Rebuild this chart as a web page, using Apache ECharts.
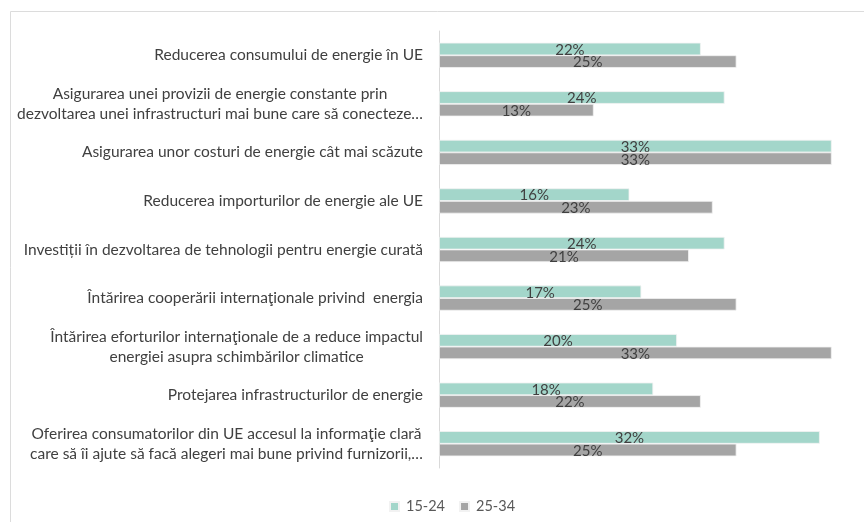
<!DOCTYPE html>
<html>
<head>
<meta charset="utf-8">
<script src="https://cdn.jsdelivr.net/npm/echarts@6/dist/echarts.min.js"></script>
<style>
html,body{margin:0;padding:0;background:#fff;}
#chart{width:864px;height:522px;}
</style>
</head>
<body>
<div id="chart"></div>
<script>
const categories = [
  "Reducerea consumului de energie în UE",
  "Asigurarea unei provizii de energie constante prin\ndezvoltarea unei infrastructuri mai bune care să conecteze…",
  "Asigurarea unor costuri de energie cât mai scăzute",
  "Reducerea importurilor de energie ale UE",
  "Investiții în dezvoltarea de tehnologii pentru energie curată",
  "Întărirea cooperării internaţionale privind  energia",
  "Întărirea eforturilor internaţionale de a reduce impactul\nenergiei asupra schimbărilor climatice",
  "Protejarea infrastructurilor de energie",
  "Oferirea consumatorilor din UE accesul la informaţie clară\ncare să îi ajute să facă alegeri mai bune privind furnizorii,…"
];
const seriesNames = ["15-24", "25-34"];
const values1524 = [22, 24, 33, 16, 24, 17, 20, 18, 32];
const values2534 = [25, 13, 33, 23, 21, 25, 33, 22, 25];

const FONT = 'Lato, "Open Sans", sans-serif';
const chart = echarts.init(document.getElementById('chart'), null, {renderer: 'canvas'});

function barSeries(name, data, color) {
  return {
    name: name,
    type: 'bar',
    data: data,
    barWidth: 12.6,
    barGap: '0%',
    itemStyle: {color: color, borderColor: '#f2f2f2', borderWidth: 0.8},
    label: {
      show: true,
      position: 'inside',
      formatter: '{c}%',
      color: '#404040',
      fontFamily: FONT,
      fontSize: 15,
      offset: [0, 1]
    },
    emphasis: {disabled: true},
    animation: false
  };
}

chart.setOption({
  animation: false,
  backgroundColor: '#ffffff',
  graphic: [{
    type: 'rect',
    shape: {x: 10.5, y: 11.5, width: 900, height: 600},
    style: {fill: 'none', stroke: '#dcdcdc', lineWidth: 1},
    silent: true
  }],
  grid: {left: 439, right: 8.5, top: 31, bottom: 54, containLabel: false},
  legend: {
    data: seriesNames,
    left: 384,
    top: 494,
    icon: 'rect',
    itemWidth: 9,
    itemHeight: 9,
    itemGap: 14,
    textStyle: {color: '#595959', fontFamily: FONT, fontSize: 14.5, padding: [0, 0, 0, 2]}
  },
  xAxis: {
    type: 'value',
    min: 0,
    max: 35,
    show: false,
    splitLine: {show: false}
  },
  yAxis: {
    type: 'category',
    data: categories,
    inverse: true,
    axisLine: {show: true, lineStyle: {color: '#d9d9d9', width: 1}},
    axisTick: {show: false},
    axisLabel: {
      margin: 16,
      align: 'right',
      formatter: function (v) {
        return v.split('\n').map(function (s) { return '{c|' + s + '}'; }).join('\n');
      },
      rich: {
        c: {align: 'center', color: '#404040', fontFamily: FONT, fontSize: 15.5, lineHeight: 20}
      }
    }
  },
  series: [
    barSeries(seriesNames[0], values1524, '#A3D6CA'),
    barSeries(seriesNames[1], values2534, '#A5A5A5')
  ]
});
</script>
</body>
</html>
